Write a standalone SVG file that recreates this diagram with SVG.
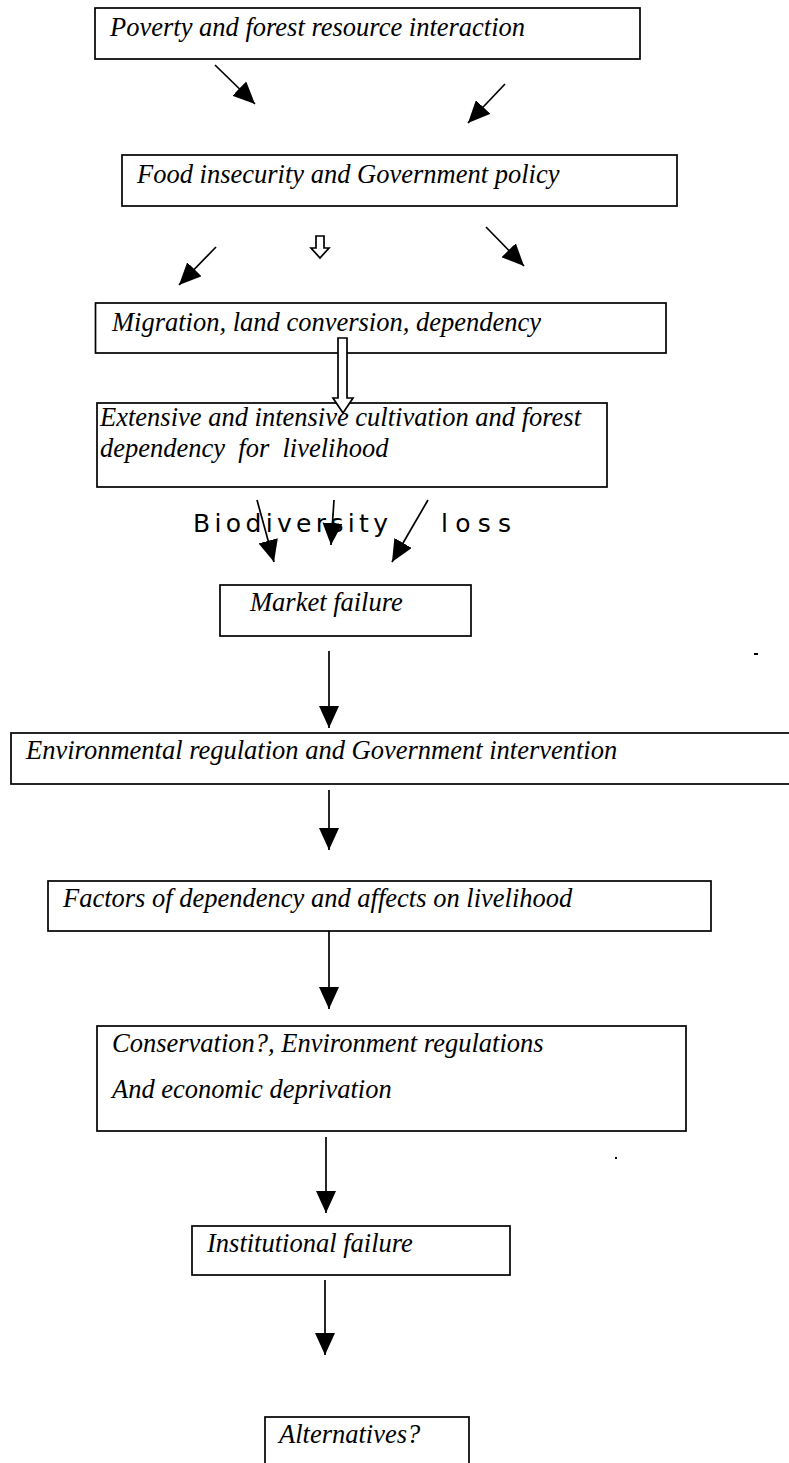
<svg xmlns="http://www.w3.org/2000/svg" width="789" height="1463" viewBox="0 0 789 1463">
  <style>
    .box { fill: #fff; stroke: #000; stroke-width: 1.7; }
    .lbl { font-family: "Liberation Serif", "Times New Roman", serif; font-style: italic; font-size: 26.5px; fill: #000; }
    .hand { font-family: "DejaVu Sans", sans-serif; font-size: 25px; fill: #000; }
    .conn { stroke: #000; stroke-width: 1.7; fill: none; }
    .hollow { fill: #fff; stroke: #000; stroke-width: 1.7; stroke-linejoin: miter; }
  </style>
  <defs>
    <marker id="ah" markerUnits="userSpaceOnUse" markerWidth="22" markerHeight="20" viewBox="0 0 22 20" refX="22" refY="10" orient="auto">
      <path d="M0,0 L22,10 L0,20 z" fill="#000"/>
    </marker>
  </defs>
  <rect width="789" height="1463" fill="#fff"/>

  <!-- flow boxes -->
  <g id="n-poverty">
    <rect class="box" x="95" y="8" width="545" height="51"/>
    <text class="lbl" x="110" y="36">Poverty and forest resource interaction</text>
  </g>
  <g id="n-food">
    <rect class="box" x="122" y="155" width="555" height="51"/>
    <text class="lbl" x="137" y="183">Food insecurity and Government policy</text>
  </g>
  <g id="n-migration">
    <rect class="box" x="95.5" y="303" width="570.5" height="50"/>
    <text class="lbl" x="112" y="331">Migration, land conversion, dependency</text>
  </g>
  <g id="n-cultivation">
    <rect class="box" x="97" y="403" width="510" height="84"/>
    <text class="lbl" x="100" y="426">Extensive and intensive cultivation and forest</text>
    <text class="lbl" x="100" y="457" style="white-space:pre">dependency  for  livelihood</text>
  </g>
  <g id="n-biodiversity">
    <text class="hand" x="193" y="532" textLength="195" lengthAdjust="spacing">Biodiversity</text>
    <text class="hand" x="441" y="532" textLength="70" lengthAdjust="spacing">loss</text>
  </g>
  <g id="n-market">
    <rect class="box" x="220" y="585" width="251" height="51"/>
    <text class="lbl" x="250" y="611">Market failure</text>
  </g>
  <g id="n-regulation">
    <rect class="box" x="11" y="733" width="790" height="51"/>
    <text class="lbl" x="26" y="759">Environmental regulation and Government intervention</text>
  </g>
  <g id="n-factors">
    <rect class="box" x="48" y="881" width="663" height="50"/>
    <text class="lbl" x="63" y="907">Factors of dependency and affects on livelihood</text>
  </g>
  <g id="n-conservation">
    <rect class="box" x="97" y="1026" width="589" height="105"/>
    <text class="lbl" x="112" y="1052">Conservation?, Environment regulations</text>
    <text class="lbl" x="112" y="1098">And economic deprivation</text>
  </g>
  <g id="n-institutional">
    <rect class="box" x="192" y="1226" width="318" height="49"/>
    <text class="lbl" x="207" y="1252">Institutional failure</text>
  </g>
  <g id="n-alternatives">
    <rect class="box" x="265" y="1417" width="204" height="60"/>
    <text class="lbl" x="279" y="1443">Alternatives?</text>
  </g>

  <!-- connectors -->
  <g id="connectors">
    <line class="conn" x1="215" y1="65" x2="255" y2="104" marker-end="url(#ah)"/>
    <line class="conn" x1="505" y1="84" x2="468" y2="123" marker-end="url(#ah)"/>
    <line class="conn" x1="216" y1="247" x2="179" y2="285" marker-end="url(#ah)"/>
    <polygon class="hollow" points="316,236 324,236 324,248 329,248 320,258 311,248 316,248"/>
    <line class="conn" x1="486" y1="227" x2="524" y2="266" marker-end="url(#ah)"/>
    <polygon class="hollow" points="338,338 347,338 347,398 353,398 343,413 333,398 338,398"/>
    <line class="conn" x1="257" y1="500" x2="274" y2="562" marker-end="url(#ah)"/>
    <line class="conn" x1="334" y1="500" x2="331" y2="545" marker-end="url(#ah)"/>
    <line class="conn" x1="428" y1="500" x2="392" y2="562" marker-end="url(#ah)"/>
    <line class="conn" x1="329" y1="651" x2="329" y2="728" marker-end="url(#ah)"/>
    <line class="conn" x1="329" y1="790" x2="329" y2="850" marker-end="url(#ah)"/>
    <line class="conn" x1="329" y1="931" x2="329" y2="1009" marker-end="url(#ah)"/>
    <line class="conn" x1="326" y1="1137" x2="326" y2="1213" marker-end="url(#ah)"/>
    <line class="conn" x1="325" y1="1280" x2="325" y2="1355" marker-end="url(#ah)"/>
  </g>

  <!-- stray marks -->
  <rect x="754" y="653" width="4" height="2" fill="#000"/>
  <rect x="615" y="1157" width="2" height="2" fill="#000"/>
</svg>
